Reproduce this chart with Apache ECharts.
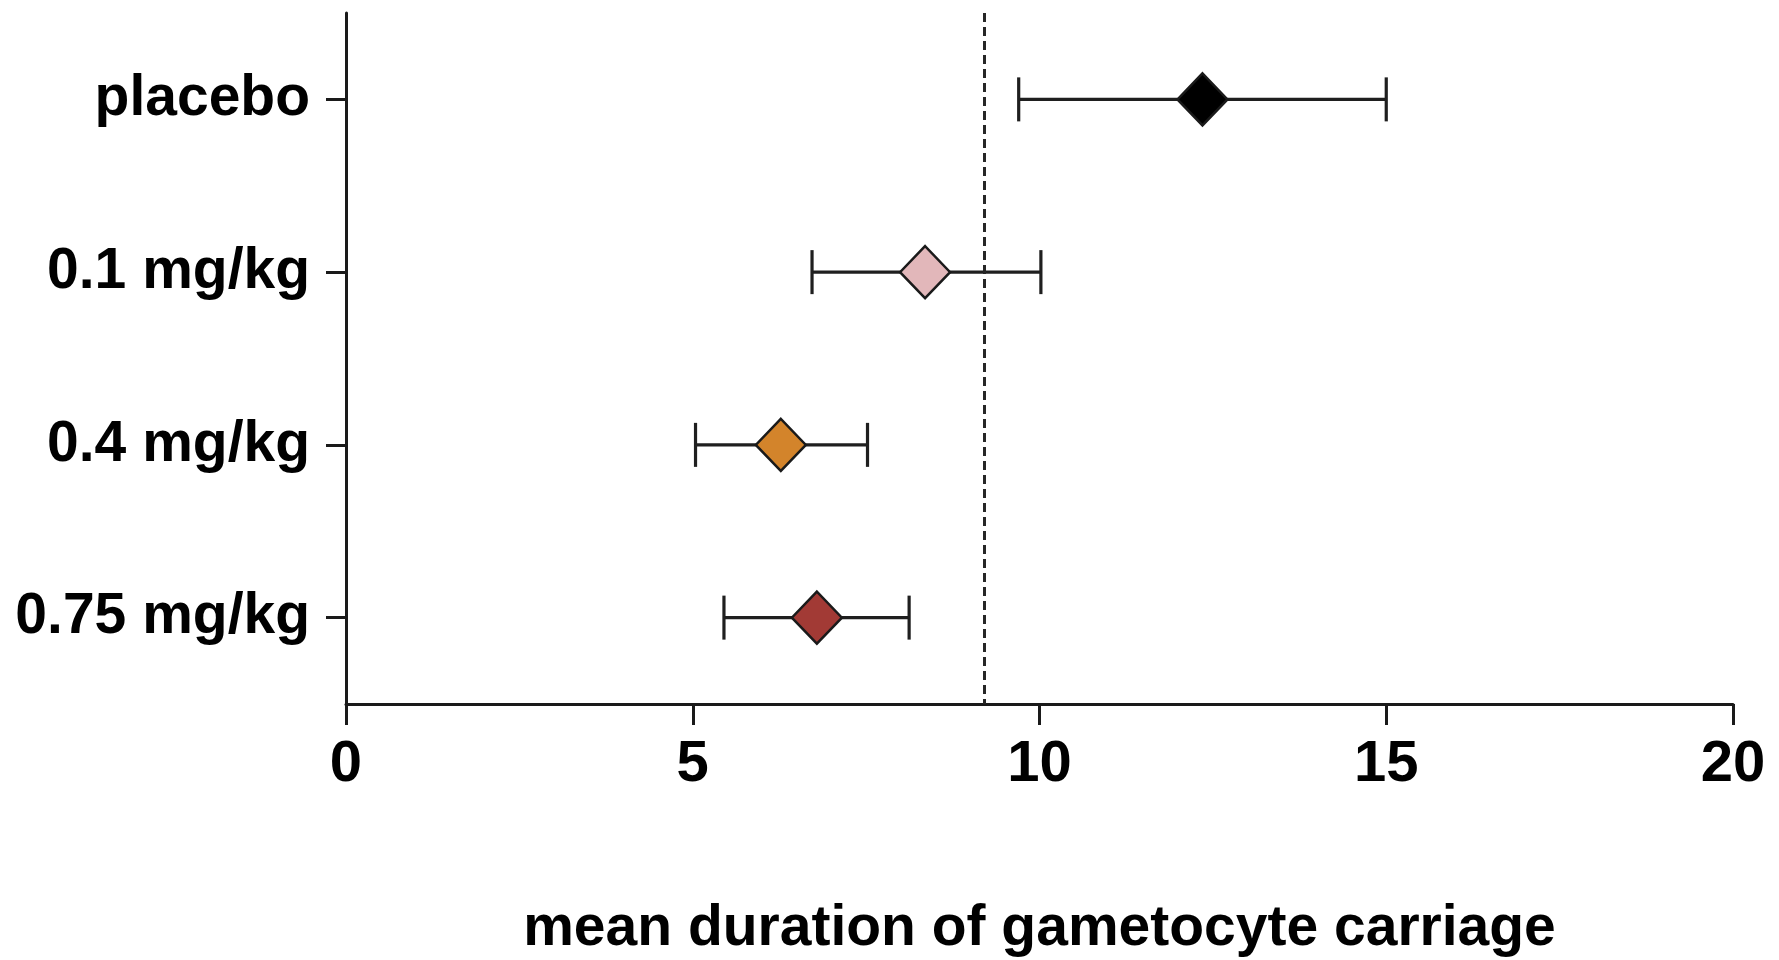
<!DOCTYPE html>
<html>
<head>
<meta charset="utf-8">
<script src="https://cdn.jsdelivr.net/npm/echarts@6/dist/echarts.min.js"></script>
<style>
html,body{margin:0;padding:0;background:#fff;}
#chart{width:1779px;height:960px;}
</style>
</head>
<body>
<div id="chart"></div>
<script>
const categories = ['placebo', '0.1 mg/kg', '0.4 mg/kg', '0.75 mg/kg'];
const means = [12.35, 8.35, 6.27, 6.79];
const lowers = [9.7, 6.72, 5.04, 5.45];
const uppers = [15.0, 10.02, 7.52, 8.12];
const markerColors = ['#000000', '#e2b7ba', '#d3842b', '#a23a35'];
const referenceValue = 9.2;
const xTicks = [0, 5, 10, 15, 20];

const FONT = "'Liberation Sans', Arial, Helvetica, sans-serif";
const chart = echarts.init(document.getElementById('chart'), null, {renderer: 'canvas'});

const errData = categories.map((c, i) => [lowers[i], uppers[i], i]);
const pointData = categories.map((c, i) => ({
  value: [means[i], i],
  itemStyle: {color: markerColors[i]}
}));

chart.setOption({
  animation: false,
  backgroundColor: '#ffffff',
  grid: {left: 346, right: 46, top: 13, bottom: 256, containLabel: false, outerBoundsMode: 'none'},
  xAxis: {
    type: 'value',
    min: xTicks[0],
    max: xTicks[xTicks.length - 1],
    interval: 5,
    name: 'mean duration of gametocyte carriage',
    nameLocation: 'middle',
    nameGap: 197,
    nameTextStyle: {fontFamily: FONT, fontWeight: 'bold', fontSize: 57, color: '#000'},
    axisLine: {show: true, onZero: false, lineStyle: {color: '#1a1a1a', width: 3}},
    axisTick: {show: true, length: 21, lineStyle: {color: '#1a1a1a', width: 3}},
    axisLabel: {fontFamily: FONT, fontWeight: 'bold', fontSize: 58, color: '#000', margin: 32},
    splitLine: {show: false}
  },
  yAxis: {
    type: 'category',
    data: categories,
    inverse: true,
    boundaryGap: true,
    axisLine: {show: true, onZero: false, lineStyle: {color: '#1a1a1a', width: 3}},
    axisTick: {show: true, alignWithLabel: true, length: 20, lineStyle: {color: '#1a1a1a', width: 3}},
    axisLabel: {fontFamily: FONT, fontWeight: 'bold', fontSize: 57, color: '#000', margin: 36},
    splitLine: {show: false}
  },
  series: [
    {
      type: 'custom',
      name: 'ci',
      data: errData,
      dimensions: ['low', 'high', 'cat'],
      encode: {x: ['low', 'high'], y: 'cat'},
      renderItem: function (params, api) {
        const y = api.value(2);
        const p1 = api.coord([api.value(0), y]);
        const p2 = api.coord([api.value(1), y]);
        const h = 22;
        const style = {stroke: '#1f1f1f', lineWidth: 3.2, fill: null};
        return {
          type: 'group',
          children: [
            {type: 'line', shape: {x1: p1[0], y1: p1[1], x2: p2[0], y2: p2[1]}, style: style},
            {type: 'line', shape: {x1: p1[0], y1: p1[1] - h, x2: p1[0], y2: p1[1] + h}, style: style},
            {type: 'line', shape: {x1: p2[0], y1: p2[1] - h, x2: p2[0], y2: p2[1] + h}, style: style}
          ]
        };
      },
      z: 2
    },
    {
      type: 'scatter',
      name: 'mean',
      data: pointData,
      symbol: 'diamond',
      symbolSize: [50, 52],
      itemStyle: {borderColor: '#1a1a1a', borderWidth: 2.5, opacity: 1},
      z: 5,
      markLine: {
        silent: true,
        symbol: ['none', 'none'],
        label: {show: false},
        lineStyle: {type: [9, 5], color: '#262626', width: 3},
        data: [{xAxis: referenceValue}]
      }
    }
  ]
});
</script>
</body>
</html>
